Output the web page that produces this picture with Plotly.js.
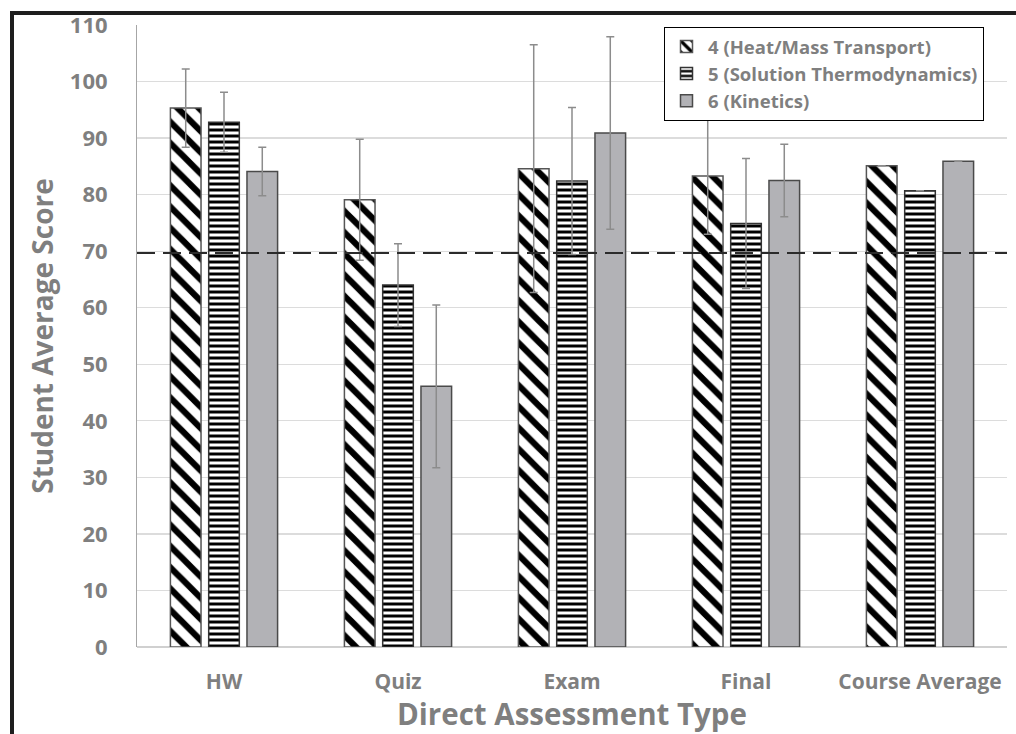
<!DOCTYPE html>
<html>
<head>
<meta charset="utf-8">
<script src="https://cdn.plot.ly/plotly-3.0.1.min.js"></script>
<style>
html,body{margin:0;padding:0;background:#fff;}
#chart{width:1016px;height:734px;}
</style>
</head>
<body>
<div id="chart"></div>
<script>
const categories = ["HW", "Quiz", "Exam", "Final", "Course Average"];
const seriesNames = ["4 (Heat/Mass Transport)", "5 (Solution Thermodynamics)", "6 (Kinetics)"];
const heatMass = [95.3, 79.1, 84.6, 83.3, 85.1];
const heatMassErr = [6.9, 10.7, 21.9, 10.3, null];
const solutionThermo = [92.8, 64.0, 82.4, 74.9, 80.7];
const solutionThermoErr = [5.3, 7.3, 13.0, 11.5, null];
const kinetics = [84.1, 46.1, 90.9, 82.5, 85.9];
const kineticsErr = [4.3, 14.4, 17.0, 6.4, null];
const targetLine = 69.7;
const yTicks = [0, 10, 20, 30, 40, 50, 60, 70, 80, 90, 100, 110];

const gray = '#7f7f7f';
const fontFam = '"Open Sans", "Noto Sans", sans-serif';
const errStyle = (arr) => ({type: 'data', array: arr, symmetric: true, visible: true,
  color: '#8c8c8c', thickness: 1.5, width: 4});

const traces = [
  {type: 'bar', name: seriesNames[0], x: categories, y: heatMass,
   error_y: errStyle(heatMassErr),
   marker: {color: 'white', line: {color: '#555555', width: 1.5},
     pattern: {shape: '\\', fgcolor: 'black', bgcolor: 'white', size: 15, solidity: 0.42}}},
  {type: 'bar', name: seriesNames[1], x: categories, y: solutionThermo,
   error_y: errStyle(solutionThermoErr),
   marker: {color: 'white', line: {color: '#333333', width: 1.5},
     pattern: {shape: '-', fgcolor: 'black', bgcolor: 'white', size: 6, solidity: 0.5}}},
  {type: 'bar', name: seriesNames[2], x: categories, y: kinetics,
   error_y: errStyle(kineticsErr),
   marker: {color: '#b2b2b6', line: {color: '#4a4a4a', width: 1.5}}}
];

const L = 137, R = 9, T = 25, B = 87;
const PW = 1016 - L - R, PH = 734 - T - B;
const px = (x) => (x - L) / PW;
const py = (y) => 1 - (y - T) / PH;

const layout = {
  width: 1016, height: 734,
  margin: {l: L, r: R, t: T, b: B},
  paper_bgcolor: 'white', plot_bgcolor: 'white',
  barmode: 'group', bargap: 0.34, bargroupgap: 0.2,
  font: {family: fontFam, color: gray, weight: 'bold'},
  showlegend: true,
  legend: {x: px(664), y: py(27), xanchor: 'left', yanchor: 'top',
    bgcolor: 'white', bordercolor: 'black', borderwidth: 1,
    font: {family: fontFam, size: 18.5, color: gray, weight: 'bold'},
    tracegroupgap: 0, itemwidth: 33},
  xaxis: {
    type: 'category',
    tickfont: {family: fontFam, size: 21, color: gray, weight: 'bold'},
    ticks: 'outside', ticklen: 16, tickcolor: 'rgba(0,0,0,0)',
    showline: false, showgrid: false,
    title: {text: 'Direct Assessment Type', standoff: 5,
      font: {family: fontFam, size: 29.5, color: gray, weight: 'bold'}}
  },
  yaxis: {
    range: [0, 110], tickvals: yTicks, ticktext: yTicks.map(String),
    tickfont: {family: fontFam, size: 22, color: gray, weight: 'bold'},
    ticks: 'outside', ticklen: 24, tickcolor: 'rgba(0,0,0,0)',
    showgrid: true, gridcolor: '#dcdcdc', gridwidth: 1.3,
    zeroline: true, zerolinecolor: '#d0d0d0', zerolinewidth: 1.5,
    showline: true, linecolor: '#a6a6a6', linewidth: 1,
    title: {text: 'Student Average Score', standoff: 8,
      font: {family: fontFam, size: 28, color: gray, weight: 'bold'}}
  },
  shapes: [
    {type: 'line', xref: 'paper', yref: 'y', x0: 0, x1: 1, y0: targetLine, y1: targetLine,
     line: {color: '#2b2b2b', width: 2, dash: '18px,8px'}},
    {type: 'line', xref: 'paper', yref: 'paper', x0: px(12), x1: px(12), y0: py(11), y1: py(740),
     line: {color: '#1e1e1e', width: 4}},
    {type: 'line', xref: 'paper', yref: 'paper', x0: px(10), x1: px(1020), y0: py(13), y1: py(13),
     line: {color: '#1e1e1e', width: 4}}
  ]
};

Plotly.newPlot('chart', traces, layout, {displayModeBar: false, staticPlot: true});
</script>
</body>
</html>
